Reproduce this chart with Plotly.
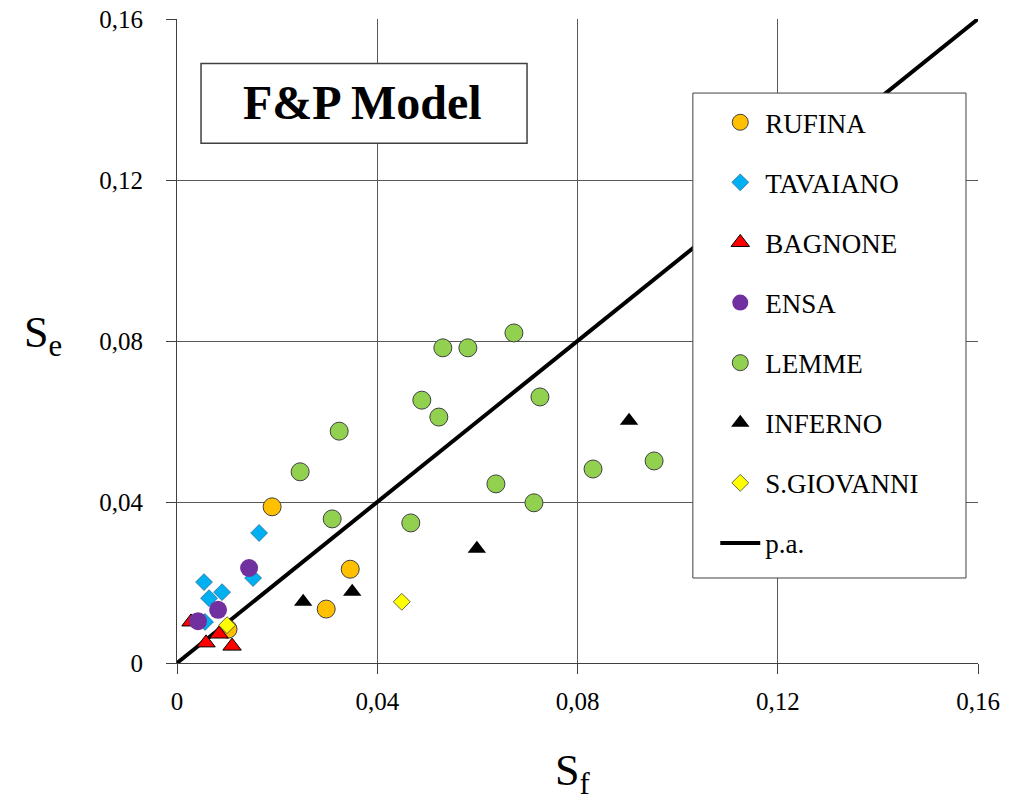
import plotly.graph_objects as go

# Measured sediment parameters: S_f (x) vs S_e (y) for each site
rufina_x = [0.0190, 0.0346, 0.0298, 0.0102]
rufina_y = [0.0388, 0.0233, 0.0134, 0.0084]

tavaiano_x = [0.0054, 0.0064, 0.0090, 0.0152, 0.0164, 0.0056]
tavaiano_y = [0.0201, 0.0161, 0.0176, 0.0211, 0.0323, 0.0102]

bagnone_x = [0.0028, 0.0058, 0.0084, 0.0110]
bagnone_y = [0.0102, 0.0050, 0.0072, 0.0042]

ensa_x = [0.0144, 0.0082, 0.0042]
ensa_y = [0.0236, 0.0132, 0.0104]

lemme_x = [0.0673, 0.0531, 0.0581, 0.0489, 0.0523, 0.0725, 0.0324,
           0.0246, 0.0310, 0.0467, 0.0637, 0.0713, 0.0831, 0.0953]
lemme_y = [0.0820, 0.0783, 0.0783, 0.0653, 0.0611, 0.0661, 0.0576,
           0.0475, 0.0358, 0.0348, 0.0445, 0.0398, 0.0482, 0.0502]

inferno_x = [0.0252, 0.0350, 0.0599, 0.0903]
inferno_y = [0.0152, 0.0177, 0.0284, 0.0602]

sgiovanni_x = [0.0449, 0.0100]
sgiovanni_y = [0.0152, 0.0094]

# perfect agreement line
pa_x = [0.0, 0.16]
pa_y = [0.0, 0.16]

tick_vals = [0, 0.04, 0.08, 0.12, 0.16]
tick_text = ["0", "0,04", "0,08", "0,12", "0,16"]

SERIF = "'Times New Roman', 'Liberation Serif', 'DejaVu Serif', serif"

fig = go.Figure()

fig.add_trace(go.Scatter(
    x=pa_x, y=pa_y, mode="lines", name="p.a.",
    line=dict(color="black", width=4),
    legendgroup="pa", legendrank=100,
))

series = [
    ("RUFINA", rufina_x, rufina_y, "circle", 18, "#FFC000", "#404040", 1),
    ("TAVAIANO", tavaiano_x, tavaiano_y, "diamond", 13, "#00B0F0", "#1F4E79", 0.6),
    ("BAGNONE", bagnone_x, bagnone_y, "triangle-up", 16, "#FF0000", "#000000", 1),
    ("ENSA", ensa_x, ensa_y, "circle", 18, "#7030A0", "#7030A0", 0),
    ("LEMME", lemme_x, lemme_y, "circle", 18, "#92D050", "#404040", 1),
    ("INFERNO", inferno_x, inferno_y, "triangle-up", 16, "#000000", "#000000", 0),
    ("S.GIOVANNI", sgiovanni_x, sgiovanni_y, "diamond", 13, "#FFFF00", "#404040", 0.8),
]

for rank, (name, xs, ys, sym, size, fill, edge, ew) in enumerate(series, start=1):
    fig.add_trace(go.Scatter(
        x=xs, y=ys, mode="markers", name=name,
        marker=dict(symbol=sym, size=size, color=fill,
                    line=dict(color=edge, width=ew)),
        legendgroup=name, legendrank=rank,
    ))

axis_common = dict(
    range=[0, 0.16], tickvals=tick_vals, ticktext=tick_text,
    showgrid=True, gridcolor="#595959", gridwidth=1,
    showline=True, linecolor="#404040", linewidth=1,
    ticks="outside", ticklen=10, tickcolor="#404040", tickwidth=1,
    zeroline=False, fixedrange=True, automargin=False,
    tickfont=dict(family=SERIF, size=25, color="black"),
)

fig.update_xaxes(**axis_common, ticklabelstandoff=6)
fig.update_yaxes(**axis_common, ticklabelstandoff=18)

fig.update_layout(
    width=1025, height=805,
    margin=dict(l=177, r=47, t=19, b=142),
    paper_bgcolor="white", plot_bgcolor="white",
    font=dict(family=SERIF, color="black"),
    showlegend=True,
    legend=dict(
        x=0.672, y=0.877, xanchor="left", yanchor="top",
        bgcolor="rgba(0,0,0,0)", borderwidth=0,
        font=dict(family=SERIF, size=27, color="black"),
        traceorder="grouped", tracegroupgap=22,
        itemwidth=40,
    ),
    shapes=[
        # legend frame
        dict(type="rect", xref="paper", yref="paper",
             x0=0.644, x1=0.985, y0=0.132, y1=0.885,
             line=dict(color="#404040", width=1),
             fillcolor="white", layer="above"),
        # title frame
        dict(type="rect", xref="paper", yref="paper",
             x0=0.030, x1=0.437, y0=0.807, y1=0.931,
             line=dict(color="#404040", width=1.5),
             fillcolor="white", layer="above"),
    ],
    annotations=[
        dict(text="<b>F&P Model</b>", xref="paper", yref="paper",
             x=0.232, y=0.870, xanchor="center", yanchor="middle",
             showarrow=False, font=dict(family=SERIF, size=48, color="black")),
        dict(text="S<sub>e</sub>", xref="paper", yref="paper",
             x=-0.193, y=0.509, xanchor="left", yanchor="middle",
             showarrow=False, font=dict(family=SERIF, size=44, color="black")),
        dict(text="S<sub>f</sub>", xref="paper", yref="paper",
             x=0.494, y=-0.172, xanchor="center", yanchor="middle",
             showarrow=False, font=dict(family=SERIF, size=44, color="black")),
    ],
)

fig.write_html("out.html")
